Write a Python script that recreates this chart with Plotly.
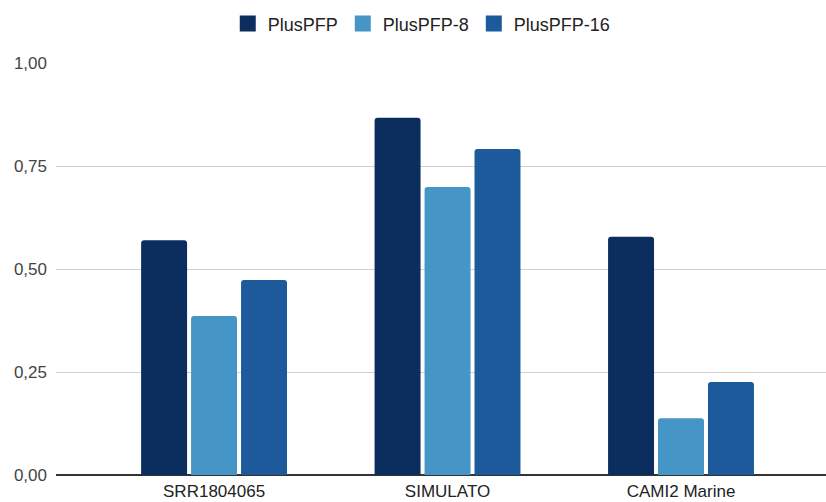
import plotly.graph_objects as go

categories = ["SRR1804065", "SIMULATO", "CAMI2 Marine"]
series_names = ["PlusPFP", "PlusPFP-8", "PlusPFP-16"]
plus_pfp = [0.570, 0.867, 0.578]
plus_pfp_8 = [0.386, 0.699, 0.138]
plus_pfp_16 = [0.473, 0.791, 0.226]
y_ticks = [0.0, 0.25, 0.5, 0.75, 1.0]

colors = ["#0b2e5e", "#4595c6", "#1c5a9c"]
font_family = "Liberation Sans, Arial, sans-serif"

fig = go.Figure()
for name, values, color in zip(series_names, [plus_pfp, plus_pfp_8, plus_pfp_16], colors):
    fig.add_trace(go.Bar(
        name=name,
        x=categories,
        y=values,
        marker=dict(color=color, cornerradius=3, line=dict(width=0)),
        showlegend=False,
    ))
    # larger square legend swatches
    fig.add_trace(go.Scatter(
        name=name,
        x=[None],
        y=[None],
        mode="markers",
        marker=dict(symbol="square", size=18, color=color),
        showlegend=True,
    ))

fig.update_layout(
    width=826,
    height=502,
    margin=dict(l=56, r=0, t=63, b=27),
    paper_bgcolor="white",
    plot_bgcolor="white",
    barmode="group",
    bargap=0.358,
    bargroupgap=0.08,
    separators=",.",
    font=dict(family=font_family, size=17, color="#222222"),
    legend=dict(
        orientation="h",
        x=0.475,
        xanchor="center",
        y=1.095,
        yanchor="middle",
        font=dict(size=18, color="#222222"),
        itemsizing="trace",
        bgcolor="rgba(0,0,0,0)",
    ),
    xaxis=dict(
        type="category",
        range=[-0.677, 2.621],
        showgrid=False,
        showline=False,
        ticks="",
        ticklabelstandoff=4,
        tickfont=dict(size=17, color="#222222"),
        fixedrange=True,
    ),
    yaxis=dict(
        range=[0, 1.0],
        tickvals=y_ticks,
        tickformat=".2f",
        showgrid=True,
        gridcolor="#d0d0d0",
        gridwidth=1,
        zeroline=True,
        zerolinecolor="#333333",
        zerolinewidth=1.5,
        showline=False,
        ticks="",
        ticklabelstandoff=8,
        tickfont=dict(size=17, color="#444444"),
        fixedrange=True,
    ),
)

fig.write_html("out.html")
